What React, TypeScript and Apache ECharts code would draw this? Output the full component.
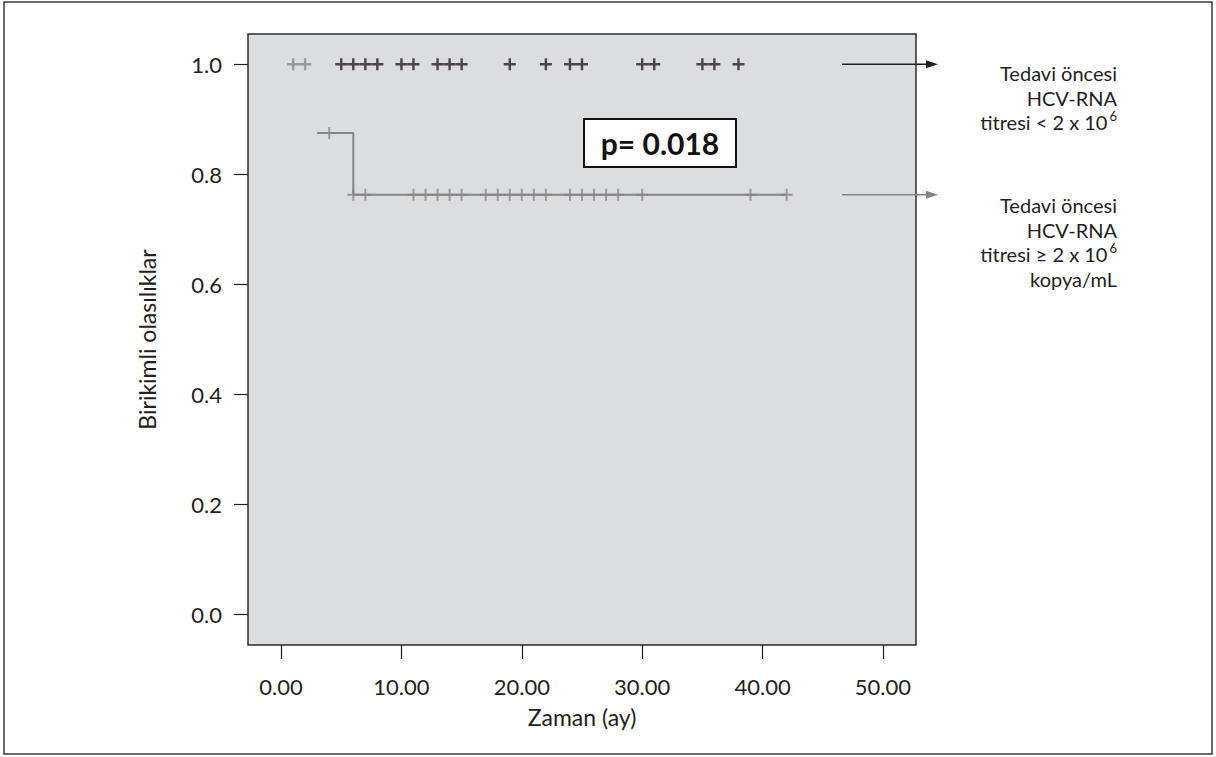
import React, { useEffect, useRef } from "react";
import * as echarts from "echarts";

// ---- data ----
const X_TICKS = [0, 10, 20, 30, 40, 50];
const Y_TICKS = [0, 0.2, 0.4, 0.6, 0.8, 1.0];

// group < 2x10^6 : no events, censored observations at 1.0
const lowCensorTimes = [5, 6, 7, 8, 10, 11, 13, 14, 15, 19, 22, 24, 25, 30, 31, 35, 36, 38];
const lowCensorSurv = 1.0;

// group >= 2x10^6
const highCensorTop = [1, 2]; // censored at 1.0
const highStepTimes = [3, 6, 42];
const highStepSurv = [0.875, 0.763, 0.763];
const highCensorMid = [4]; // censored at 0.875
const highCensorLow = [6, 7, 11, 12, 13, 14, 15, 17, 18, 19, 20, 21, 22, 24, 25, 26, 27, 28, 30, 39, 42];

const LEGEND_LOW = ["Tedavi öncesi", "HCV-RNA", "titresi < 2 x 10{sup|6}"];
const LEGEND_HIGH = ["Tedavi öncesi", "HCV-RNA", "titresi ≥ 2 x 10{sup|6}", "kopya/mL"];

const PLUS = "path://M4,0H6V4H10V6H6V10H4V6H0V4H4Z";
const PLUS_THIN = "path://M4.2,0H5.8V4.2H10V5.8H5.8V10H4.2V5.8H0V4.2H4.2Z";

const FONT = "Lato, 'Noto Sans', sans-serif";
const DARK = "#231f20";
const GRAY = "#858585";

export default function App() {
  const ref = useRef<HTMLDivElement>(null);
  useEffect(() => {
    if (!ref.current) return;
    const chart = echarts.init(ref.current, null, { renderer: "svg" });
    const option: any = {
      animation: false,
      backgroundColor: "#ffffff",
      grid: {
        left: 248,
        top: 34,
        right: 300,
        bottom: 112,
        show: true,
        backgroundColor: "#dcdddf",
        borderColor: "#2b2b2b",
        borderWidth: 1.5,
      },
      xAxis: {
        type: "value",
        min: -2.75,
        max: 52.75,
        name: "Zaman (ay)",
        nameLocation: "middle",
        nameGap: 60,
        nameTextStyle: { fontFamily: FONT, fontSize: 23, color: DARK },
        axisLine: { show: false, onZero: false },
        axisTick: { show: true, length: 14, customValues: X_TICKS, lineStyle: { color: DARK, width: 1.2 } },
        axisLabel: {
          customValues: X_TICKS,
          margin: 30,
          fontFamily: FONT,
          fontSize: 22,
          color: DARK,
          formatter: (v: number) => v.toFixed(2),
        },
        splitLine: { show: false },
      },
      yAxis: {
        type: "value",
        min: -0.055,
        max: 1.055,
        name: "Birikimli olasılıklar",
        nameLocation: "middle",
        nameGap: 90,
        nameRotate: 90,
        nameTextStyle: { fontFamily: FONT, fontSize: 23, color: DARK },
        axisLine: { show: false, onZero: false },
        axisTick: { show: true, length: 14, customValues: Y_TICKS, lineStyle: { color: DARK, width: 1.2 } },
        axisLabel: {
          customValues: Y_TICKS,
          margin: 26,
          fontFamily: FONT,
          fontSize: 22,
          color: DARK,
          formatter: (v: number) => v.toFixed(1),
        },
        splitLine: { show: false },
      },
      series: [
        {
          type: "line",
          step: "end",
          data: highStepTimes.map((t, i) => [t, highStepSurv[i]]),
          showSymbol: false,
          symbol: "none",
          lineStyle: { color: GRAY, width: 2 },
          z: 2,
        },
        {
          type: "scatter",
          data: highCensorMid.map((t) => [t, highStepSurv[0]]),
          symbol: PLUS_THIN,
          symbolSize: 12,
          itemStyle: { color: GRAY },
          z: 3,
        },
        {
          type: "scatter",
          data: highCensorLow.map((t) => [t, highStepSurv[highStepSurv.length - 1]]),
          symbol: PLUS_THIN,
          symbolSize: 12,
          itemStyle: { color: GRAY },
          z: 3,
        },
        {
          type: "scatter",
          data: highCensorTop.map((t) => [t, 1.0]),
          symbol: PLUS,
          symbolSize: 12,
          itemStyle: { color: "#8a8a8a" },
          z: 3,
        },
        {
          type: "scatter",
          data: lowCensorTimes.map((t) => [t, lowCensorSurv]),
          symbol: PLUS,
          symbolSize: 12,
          itemStyle: { color: DARK },
          z: 3,
        },
      ],
    };
    chart.setOption(option);

    const yTop = chart.convertToPixel({ gridIndex: 0 }, [0, lowCensorSurv])[1];
    const yLow = chart.convertToPixel({ gridIndex: 0 }, [0, highStepSurv[highStepSurv.length - 1]])[1];
    const ax0 = 842;
    const ax1 = 938;
    const arrow = (y: number, color: string) => [
      { type: "line", shape: { x1: ax0, y1: y, x2: ax1 - 10, y2: y }, style: { stroke: color, lineWidth: 1.5 }, z: 10 },
      { type: "polygon", shape: { points: [[ax1 - 12, y - 4], [ax1, y], [ax1 - 12, y + 4]] }, style: { fill: color }, z: 10 },
    ];
    const RX = 1117;
    const LH = 24.5;
    const block = (lines: string[], firstCenter: number) => ({
      type: "text",
      x: RX,
      y: firstCenter - LH / 2,
      style: {
        text: lines.join("\n"),
        fontFamily: FONT,
        fontSize: 20,
        lineHeight: LH,
        fill: DARK,
        align: "right",
        verticalAlign: "top",
        rich: {
          sup: { fontFamily: FONT, fontSize: 13, lineHeight: 18, fill: DARK, verticalAlign: "top", padding: [0, 0, 0, 2] },
        },
      },
      z: 10,
    });
    chart.setOption({
      graphic: [
        { type: "rect", shape: { x: 4, y: 2, width: 1208, height: 752 }, style: { fill: "none", stroke: "#3a3a3a", lineWidth: 1.5 }, z: 10 },
        ...arrow(yTop, DARK),
        ...arrow(yLow, GRAY),
        block(LEGEND_LOW, 73),
        block(LEGEND_HIGH, 205),
        {
          type: "rect",
          shape: { x: 584, y: 119, width: 152, height: 48 },
          style: { fill: "#ffffff", stroke: "#111111", lineWidth: 2 },
          z: 10,
        },
        {
          type: "text",
          x: 660,
          y: 143,
          style: { text: "p= 0.018", fontFamily: FONT, fontSize: 30, fontWeight: "bold", fill: "#111111", align: "center", verticalAlign: "middle" },
          z: 11,
        },
      ],
    });
    return () => chart.dispose();
  }, []);
  return <div ref={ref} style={{ position: "absolute", left: 0, top: 0, width: 1216, height: 757 }} />;
}
